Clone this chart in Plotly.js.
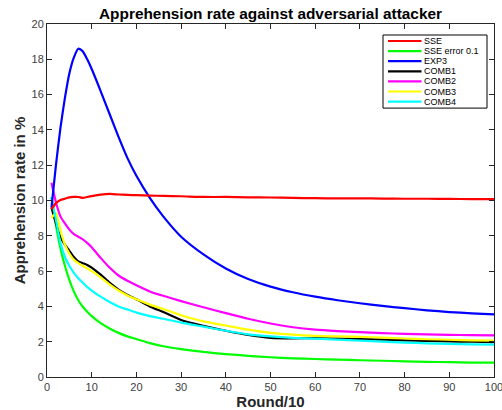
<!DOCTYPE html>
<html>
<head>
<meta charset="utf-8">
<script src="https://cdn.plot.ly/plotly-3.0.1.min.js"></script>
<style>html,body{margin:0;padding:0;background:#fff;}#chart{width:502px;height:410px;}</style>
</head>
<body>
<div id="chart"></div>
<script>
var rounds = [1,2,3,4,5,6,7,8,9,10,12,14,16,18,20,23,26,30,35,40,45,50,55,60,65,70,75,80,85,90,95,100];
var sse      = [9.5,9.85,10.03,10.1,10.18,10.2,10.2,10.15,10.2,10.25,10.33,10.37,10.34,10.32,10.3,10.28,10.26,10.24,10.2,10.2,10.18,10.17,10.15,10.13,10.12,10.12,10.11,10.1,10.1,10.09,10.08,10.08];
var sseErr   = [10.2,8.6,7.3,6.3,5.5,4.85,4.35,3.98,3.7,3.45,3.05,2.75,2.5,2.3,2.15,1.92,1.74,1.58,1.42,1.3,1.2,1.12,1.06,1.02,0.98,0.95,0.92,0.89,0.86,0.84,0.82,0.81];
var exp3     = [9.6,12.0,14.1,15.8,17.2,18.1,18.6,18.45,18.0,17.45,16.2,14.9,13.6,12.4,11.4,10.15,9.1,7.95,6.95,6.15,5.55,5.12,4.8,4.55,4.35,4.18,4.03,3.9,3.78,3.68,3.61,3.55];
var comb1    = [9.6,8.7,7.95,7.5,7.15,6.8,6.55,6.45,6.35,6.2,5.8,5.35,4.95,4.65,4.4,4.0,3.68,3.23,2.9,2.62,2.38,2.22,2.19,2.2,2.18,2.15,2.12,2.08,2.05,2.02,2.0,1.98];
var comb2    = [11.0,9.9,9.1,8.7,8.35,8.1,7.95,7.8,7.6,7.35,6.75,6.2,5.75,5.45,5.2,4.85,4.6,4.3,3.95,3.62,3.3,3.03,2.82,2.68,2.6,2.54,2.49,2.44,2.41,2.39,2.37,2.36];
var comb3    = [9.0,9.3,8.3,7.5,7.0,6.65,6.45,6.3,6.15,6.0,5.65,5.25,4.9,4.62,4.4,4.1,3.85,3.5,3.15,2.92,2.68,2.5,2.4,2.33,2.3,2.27,2.23,2.18,2.14,2.11,2.08,2.06];
var comb4    = [10.2,8.9,7.6,6.8,6.3,5.9,5.6,5.35,5.1,4.9,4.55,4.25,4.0,3.82,3.65,3.45,3.3,3.08,2.85,2.62,2.42,2.3,2.22,2.17,2.12,2.06,2.0,1.95,1.91,1.88,1.85,1.83];
var seriesNames  = ['SSE','SSE error 0.1','EXP3','COMB1','COMB2','COMB3','COMB4'];
var seriesColors = ['#ff0000','#00ff00','#0000ff','#000000','#ff00ff','#ffff00','#00ffff'];
var seriesData   = [sse, sseErr, exp3, comb1, comb2, comb3, comb4];
var xTicks = [0,10,20,30,40,50,60,70,80,90,100];
var yTicks = [0,2,4,6,8,10,12,14,16,18,20];

var order = [1,4,3,5,6,2,0];
var traces = order.map(function(i){
  return {x: rounds, y: seriesData[i], type:'scatter', mode:'lines', name: seriesNames[i],
          line:{color: seriesColors[i], width:2.2, shape:'spline', smoothing:0.6}, showlegend:false, hoverinfo:'none'};
});

// compact legend box (paper coords)
var L=47, R=494, T=24, B=377;
function px(x){return (x-L)/(R-L);}
function py(y){return (B-y)/(B-T);}
var step = 10.1, firstY = 41;
var shapes = [{type:'rect', xref:'paper', yref:'paper', x0:px(383), x1:px(487), y0:py(firstY + 6*step + 6.5), y1:py(35),
               line:{color:'#000', width:1}, fillcolor:'#fff', layer:'above'}];
var annotations = [];
seriesNames.forEach(function(n,i){
  var yc = firstY + i*step;
  shapes.push({type:'line', xref:'paper', yref:'paper', x0:px(388), x1:px(421.5), y0:py(yc), y1:py(yc),
               line:{color:seriesColors[i], width:2.2}, layer:'above'});
  annotations.push({xref:'paper', yref:'paper', x:px(423), y:py(yc), text:n, showarrow:false, borderpad:0,
               xanchor:'left', yanchor:'middle', font:{size:9, color:'#000', family:'Liberation Sans, Arial, sans-serif'}});
});

var axisCommon = {showline:true, mirror:'ticks', linecolor:'#262626', linewidth:1, ticks:'inside', ticklen:5,
                  tickcolor:'#262626', showgrid:false, zeroline:false, ticklabeloverflow:'allow',
                  tickfont:{size:11, color:'#404040', family:'Liberation Sans, Arial, sans-serif'}};
var layout = {
  width:502, height:410, margin:{l:47, r:8, t:24, b:33}, paper_bgcolor:'#fff', plot_bgcolor:'#fff',
  title:{text:'<b>Apprehension rate against adversarial attacker</b>', x:(L+R)/2/502, xanchor:'center', y:0.968, yanchor:'middle',
         font:{size:15.4, color:'#000', family:'Liberation Sans, Arial, sans-serif'}},
  xaxis: Object.assign({}, axisCommon, {range:[0,100], tickvals:xTicks, ticktext:xTicks.map(String),
         title:{text:'<b>Round/10</b>', standoff:0, font:{size:15, color:'#262626', family:'Liberation Sans, Arial, sans-serif'}}}),
  yaxis: Object.assign({}, axisCommon, {range:[0,20], tickvals:yTicks, ticktext:yTicks.map(String),
         title:{text:'<b>Apprehension rate in %</b>', standoff:2, font:{size:15, color:'#262626', family:'Liberation Sans, Arial, sans-serif'}}}),
  shapes: shapes, annotations: annotations, showlegend:false
};
Plotly.newPlot('chart', traces, layout, {staticPlot:true, displayModeBar:false});
</script>
</body>
</html>
